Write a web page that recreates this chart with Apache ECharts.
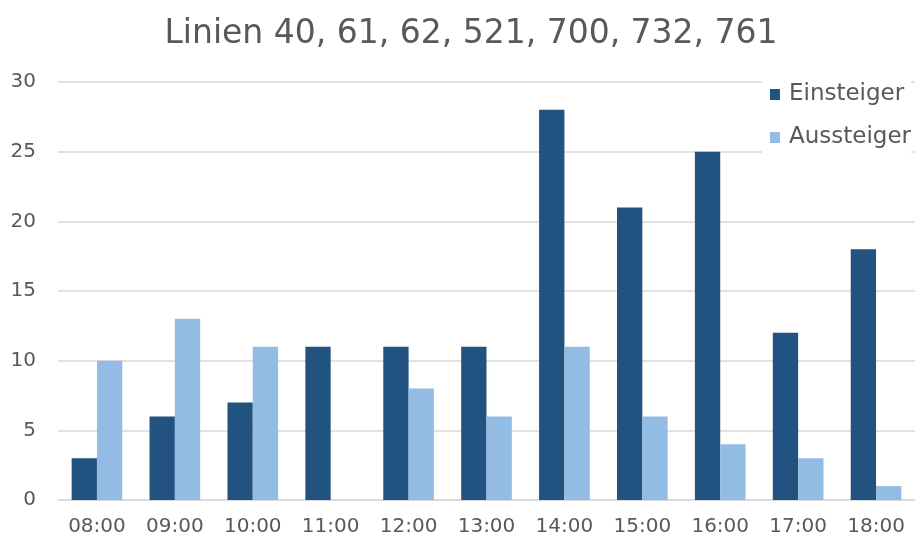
<!DOCTYPE html>
<html>
<head>
<meta charset="utf-8">
<script src="https://cdn.jsdelivr.net/npm/echarts@6/dist/echarts.min.js"></script>
<style>
  html, body { margin: 0; padding: 0; background: #fff; }
  #chart { width: 917px; height: 538px; }
</style>
</head>
<body>
<div id="chart"></div>
<script>
// Hourly boarding / alighting counts
const hours = ['08:00', '09:00', '10:00', '11:00', '12:00', '13:00', '14:00', '15:00', '16:00', '17:00', '18:00'];
const einsteiger = [3, 6, 7, 11, 11, 11, 28, 21, 25, 12, 18];
const aussteiger = [10, 13, 11, 0, 8, 6, 11, 6, 4, 3, 1];
const yTicks = { min: 0, max: 30, interval: 5 };

const chart = echarts.init(document.getElementById('chart'), null, { renderer: 'canvas' });
const textColor = '#595959';
const labelFont = 'DejaVu Sans';

chart.setOption({
  animation: false,
  backgroundColor: '#ffffff',
  title: {
    text: 'Linien 40, 61, 62, 521, 700, 732, 761',
    left: 466,
    textAlign: 'center',
    top: 13,
    textStyle: { fontFamily: labelFont, fontSize: 33, fontWeight: 'normal', color: textColor }
  },
  legend: {
    orient: 'vertical',
    right: 6,
    top: 79,
    itemWidth: 10,
    itemHeight: 11,
    itemGap: 20,
    icon: 'rect',
    backgroundColor: '#ffffff',
    padding: [4, 0, 4, 8],
    textStyle: { fontFamily: labelFont, fontSize: 23, color: textColor, padding: [0, 0, 0, 4] },
    data: ['Einsteiger', 'Aussteiger']
  },
  grid: { left: 58, right: 2, top: 82, bottom: 38, containLabel: false },
  xAxis: {
    type: 'category',
    data: hours,
    axisLine: { lineStyle: { color: '#d9d9d9', width: 1.5 } },
    axisTick: { show: false },
    axisLabel: { fontFamily: labelFont, fontSize: 20, color: textColor, margin: 17 }
  },
  yAxis: {
    type: 'value',
    min: yTicks.min,
    max: yTicks.max,
    interval: yTicks.interval,
    axisLine: { show: false },
    axisTick: { show: false },
    splitLine: { lineStyle: { color: '#d9d9d9', width: 1.5 } },
    axisLabel: { fontFamily: labelFont, fontSize: 20, color: textColor, margin: 22 }
  },
  series: [
    {
      name: 'Einsteiger',
      type: 'bar',
      data: einsteiger,
      barGap: '0%',
      barCategoryGap: '35%',
      itemStyle: { color: '#22527f' },
      z: 3
    },
    {
      name: 'Aussteiger',
      type: 'bar',
      data: aussteiger,
      barGap: '0%',
      barCategoryGap: '35%',
      itemStyle: { color: '#92bce3' },
      z: 3
    }
  ]
});
</script>
</body>
</html>
